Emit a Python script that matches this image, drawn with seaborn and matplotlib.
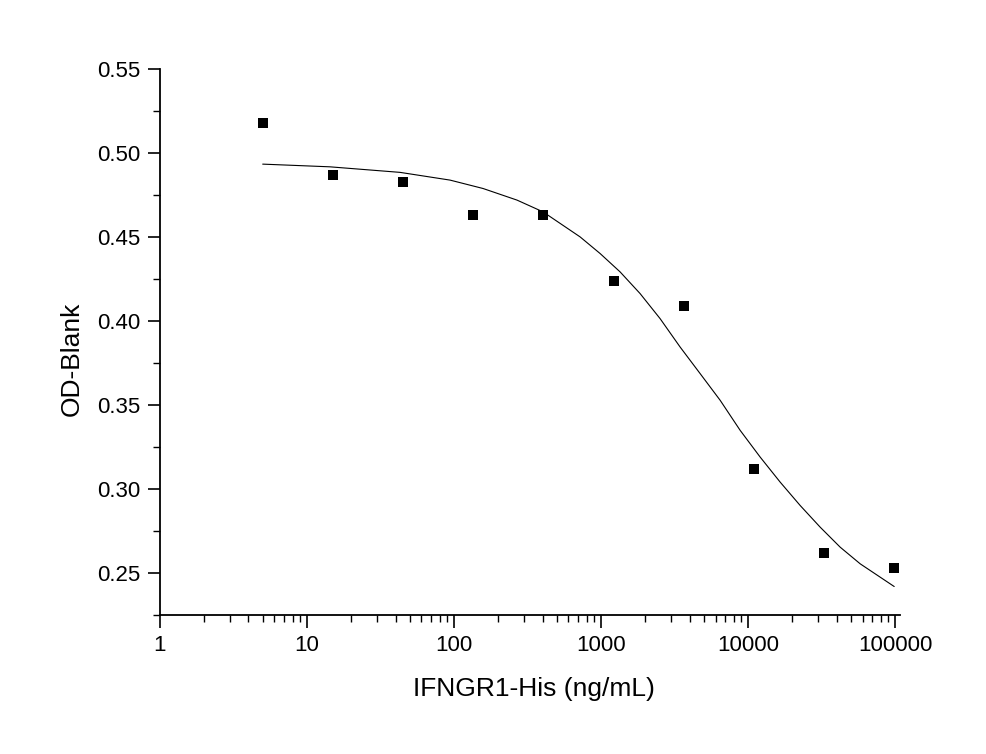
import numpy as np
import pandas as pd
import matplotlib
matplotlib.use("Agg")
import matplotlib.pyplot as plt
import matplotlib.ticker as mticker
import seaborn as sns

# measured points (3-fold dilution series)
conc = [5, 15, 45, 135, 405, 1215, 3645, 10935, 32805, 98415]
od = [0.518, 0.487, 0.483, 0.463, 0.463, 0.424, 0.409, 0.312, 0.262, 0.253]

# fitted curve
fit_x = [5, 14.3, 42.9, 93.9, 157.5, 268, 403, 720, 985, 1346, 1841, 2518,
         3445, 4712, 6450, 8825, 12070, 16510, 22580, 30890, 42250, 57790, 98415]
fit_y = [0.4934, 0.4918, 0.4885, 0.4839, 0.4789, 0.4720, 0.4650, 0.4501,
         0.4402, 0.4293, 0.4164, 0.4015, 0.3846, 0.3688, 0.3529, 0.3350,
         0.3191, 0.3042, 0.2903, 0.2774, 0.2655, 0.2556, 0.2421]

pts = pd.DataFrame({"conc": conc, "od": od})
fit = pd.DataFrame({"conc": fit_x, "od": fit_y})

sns.set_style("ticks")
plt.rcParams["font.family"] = ["Liberation Sans", "DejaVu Sans"]
plt.rcParams["text.color"] = "black"
plt.rcParams["axes.labelcolor"] = "black"
plt.rcParams["xtick.color"] = "black"
plt.rcParams["ytick.color"] = "black"
plt.rcParams["axes.edgecolor"] = "black"

fig = plt.figure(figsize=(9.87, 7.54), dpi=100)
ax = fig.add_axes([0.162, 0.184, 0.750, 0.7245])

sns.lineplot(data=fit, x="conc", y="od", color="black", linewidth=0.8, ax=ax)
sns.scatterplot(data=pts, x="conc", y="od", marker="s", s=55, color="black",
                edgecolor="black", linewidth=0, ax=ax, zorder=3)

ax.set_xscale("log")
ax.set_xlim(1, 108000)
ax.set_ylim(0.225, 0.55)
ax.xaxis.set_major_locator(mticker.LogLocator(base=10))
ax.xaxis.set_major_formatter(mticker.FuncFormatter(lambda v, p: f"{v:g}"))
ax.xaxis.set_minor_locator(mticker.LogLocator(base=10, subs=np.arange(2, 10)))
ax.xaxis.set_minor_formatter(mticker.NullFormatter())
ax.yaxis.set_major_locator(mticker.MultipleLocator(0.05))
ax.yaxis.set_minor_locator(mticker.MultipleLocator(0.025))
ax.yaxis.set_major_formatter(mticker.FormatStrFormatter("%.2f"))

for s in ["top", "right"]:
    ax.spines[s].set_visible(False)
for s in ["left", "bottom"]:
    ax.spines[s].set_linewidth(1.3)

ax.tick_params(which="major", length=9, width=1.2, labelsize=16, pad=5)
ax.tick_params(which="minor", length=5, width=1.0)

ax.set_xlabel("IFNGR1-His (ng/mL)", fontsize=19)
ax.set_ylabel("OD-Blank", fontsize=19)
ax.xaxis.set_label_coords(0.505, -0.113)
ax.yaxis.set_label_coords(-0.103, 0.47)

fig.savefig("out.png", dpi=100)
